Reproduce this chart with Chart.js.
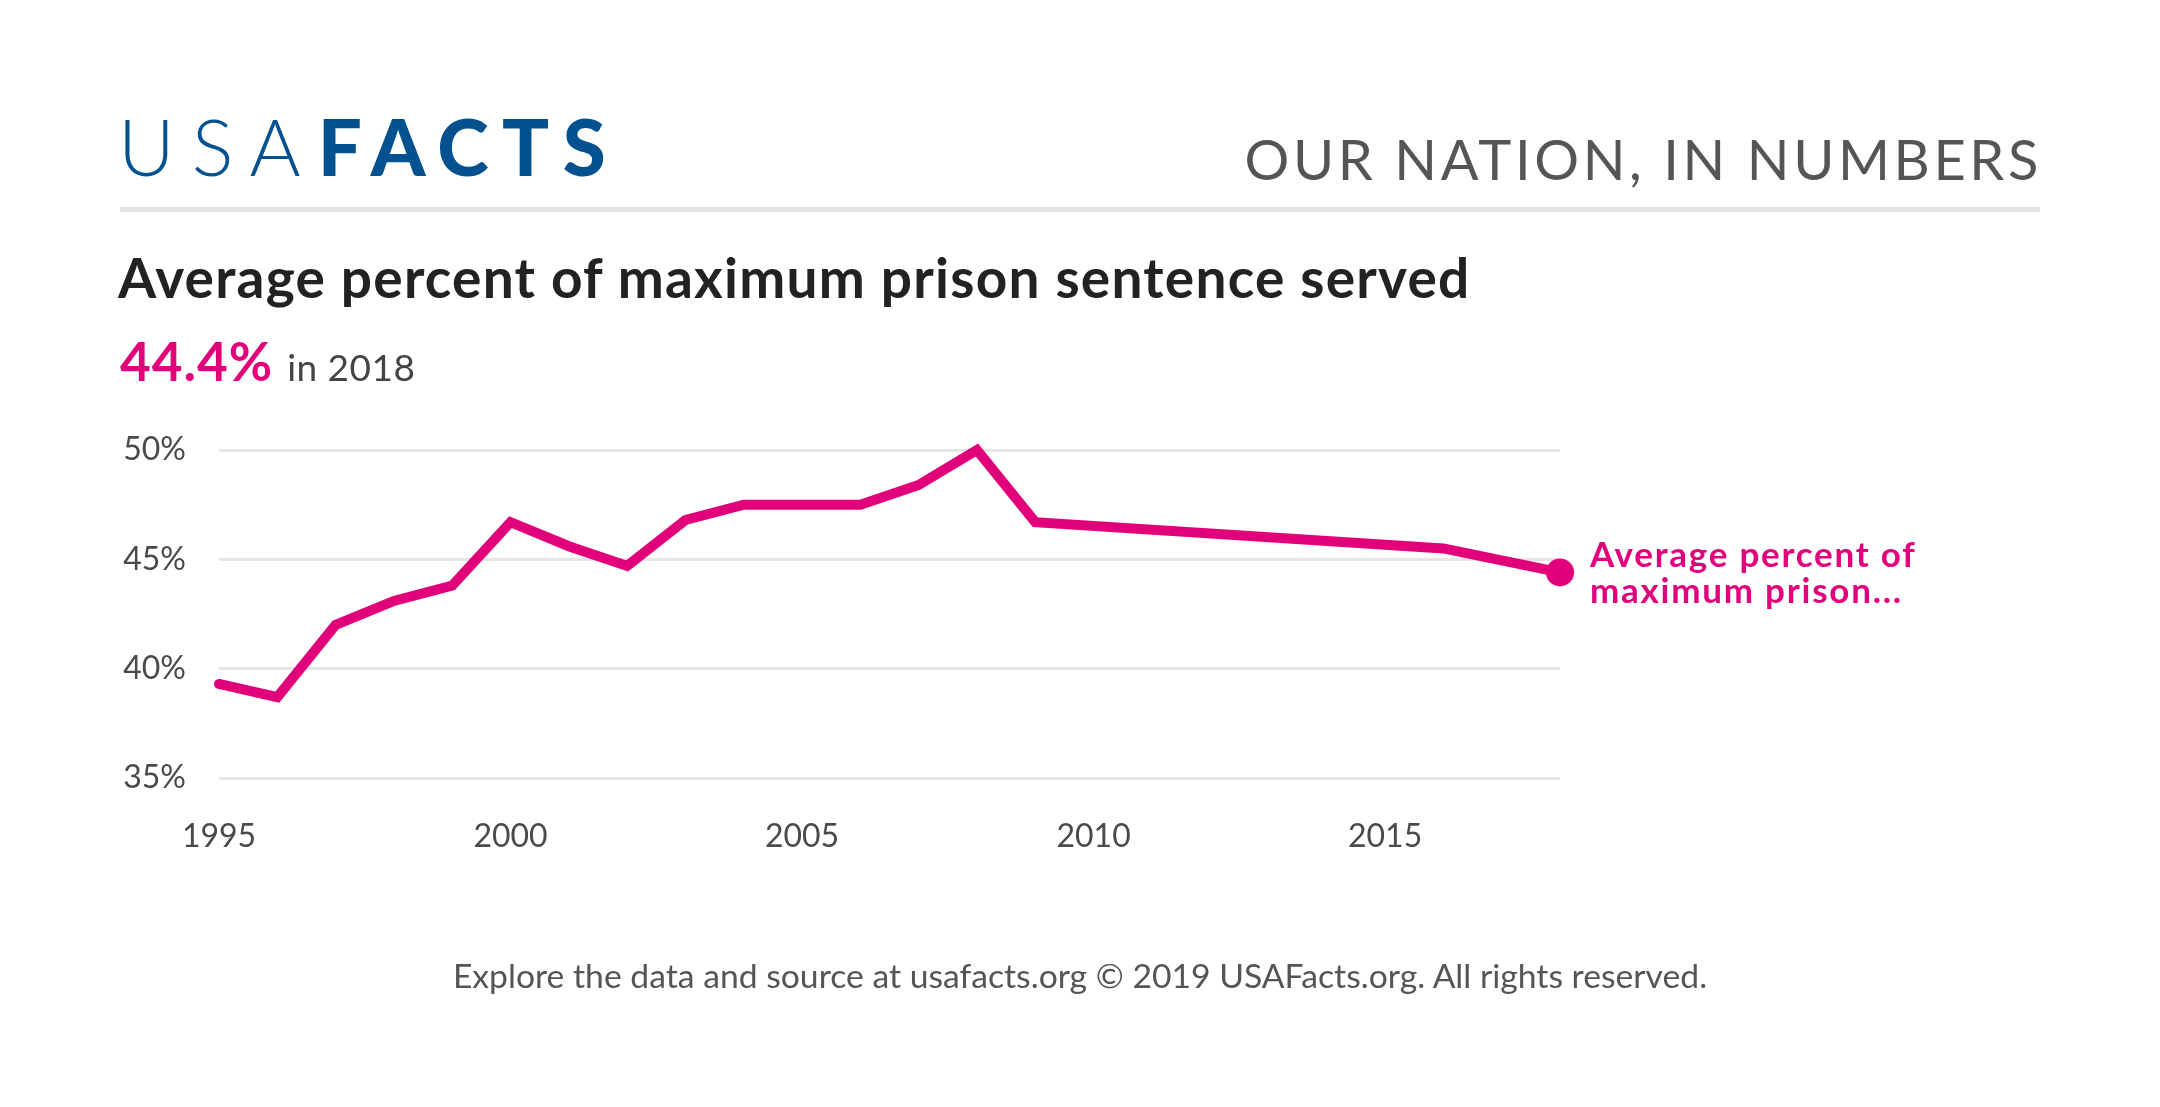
<!DOCTYPE html>
<html>
<head>
<meta charset="utf-8">
<title>Average percent of maximum prison sentence served</title>
<script src="https://cdn.jsdelivr.net/npm/chart.js@4.4.1/dist/chart.umd.min.js"></script>
<style>
  html, body { margin: 0; padding: 0; background: #fff; }
  body { width: 2160px; height: 1107px; position: relative; overflow: hidden; font-family: Lato, "Open Sans", sans-serif; }
  .abs { position: absolute; line-height: 1.2; white-space: nowrap; }
  #chart { position: absolute; left: 0; top: 0; }
  #logo { left: 118px; top: 100px; font-size: 78px; color: #04518f; }
  #logo .light { font-weight: 300; letter-spacing: 17px; }
  #logo .heavy { font-weight: 900; letter-spacing: 13.5px; }
  #tagline { right: 118px; top: 125px; font-size: 56px; color: #555; letter-spacing: 3.6px; }
  #rule { position: absolute; left: 120px; top: 207px; width: 1920px; height: 5px; background: #e4e4e4; }
  #title { left: 118px; top: 244px; font-size: 55px; font-weight: 700; color: #222; letter-spacing: 1.25px; }
  #headline { left: 120px; top: 329px; font-size: 53px; font-weight: 700; color: #e2007a; letter-spacing: 1px; }
  #headline span { font-size: 37px; font-weight: 400; color: #444; letter-spacing: 0.5px; }
  #footer { left: 0; width: 2160px; text-align: center; top: 955px; font-size: 33.7px; color: #555; }
</style>
</head>
<body>
<canvas id="chart" width="2160" height="1107"></canvas>
<div class="abs" id="logo"><span class="light">USA</span><span class="heavy">FACTS</span></div>
<div class="abs" id="tagline">OUR NATION, IN NUMBERS</div>
<div id="rule"></div>
<div class="abs" id="title">Average percent of maximum prison sentence served</div>
<div class="abs" id="headline">44.4% <span>in 2018</span></div>
<div class="abs" id="footer">Explore the data and source at usafacts.org © 2019 USAFacts.org. All rights reserved.</div>

<script>
// data (2010-2015 and 2017 have no points, the line spans the gap)
const years = [1995, 1996, 1997, 1998, 1999, 2000, 2001, 2002, 2003, 2004, 2005, 2006,
               2007, 2008, 2009, 2010, 2011, 2012, 2013, 2014, 2015, 2016, 2017, 2018];
const values = [39.3, 38.7, 42.0, 43.1, 43.8, 46.7, 45.6, 44.7, 46.8, 47.5, 47.5, 47.5,
                48.4, 50.0, 46.7, null, null, null, null, null, null, 45.5, null, 44.4];
const yTicks = [35, 40, 45, 50];
const xTicks = [1995, 2000, 2005, 2010, 2015];
const seriesLabel = ["Average percent of", "maximum prison..."];

const pink = "#e2007a";
const tickColor = "#4a4a4a";

const points = [];
years.forEach((year, i) => {
    if (values[i] !== null) points.push({ x: year, y: values[i] });
});

// draws the series name next to the last point
const endLabel = {
    id: "endLabel",
    afterDatasetsDraw(chart) {
        const meta = chart.getDatasetMeta(0);
        const last = meta.data[meta.data.length - 1];
        const ctx = chart.ctx;
        ctx.save();
        ctx.fillStyle = pink;
        ctx.font = "bold 35px Lato";
        ctx.letterSpacing = "1.75px";
        ctx.textAlign = "left";
        ctx.textBaseline = "alphabetic";
        ctx.fillText(seriesLabel[0], last.x + 30, last.y - 5);
        ctx.fillText(seriesLabel[1], last.x + 30, last.y + 31);
        ctx.restore();
    }
};

new Chart(document.getElementById("chart").getContext("2d"), {
    type: "line",
    data: {
        datasets: [{
            label: seriesLabel.join(" "),
            data: points,
            borderColor: pink,
            backgroundColor: pink,
            borderWidth: 10,
            borderCapStyle: "round",
            borderJoinStyle: "miter",
            tension: 0,
            spanGaps: true,
            clip: false,
            pointRadius: ctx => ctx.dataIndex === points.length - 1 ? 14 : 0,
            pointHoverRadius: ctx => ctx.dataIndex === points.length - 1 ? 14 : 0,
            pointBorderWidth: 0
        }]
    },
    options: {
        responsive: false,
        animation: false,
        events: [],
        layout: { padding: { left: 0, top: 450, right: 600, bottom: 229 } },
        plugins: {
            legend: { display: false },
            tooltip: { enabled: false }
        },
        scales: {
            x: {
                type: "linear",
                min: years[0],
                max: years[years.length - 1],
                afterFit: s => { s.height = 100; },
                afterBuildTicks: s => { s.ticks = xTicks.map(v => ({ value: v })); },
                grid: { display: false },
                border: { display: false },
                ticks: {
                    padding: 31,
                    color: tickColor,
                    font: { family: "Lato", size: 32 },
                    callback: v => String(v)
                }
            },
            y: {
                min: yTicks[0],
                max: yTicks[yTicks.length - 1],
                afterFit: s => { s.width = 219; },
                afterBuildTicks: s => { s.ticks = yTicks.map(v => ({ value: v })); },
                grid: { color: "#e6e6e6", lineWidth: 3, drawTicks: false },
                border: { display: false },
                ticks: {
                    padding: 33,
                    color: tickColor,
                    font: { family: "Lato", size: 32 },
                    callback: v => v + "%"
                }
            }
        }
    },
    plugins: [endLabel]
});
</script>
</body>
</html>
